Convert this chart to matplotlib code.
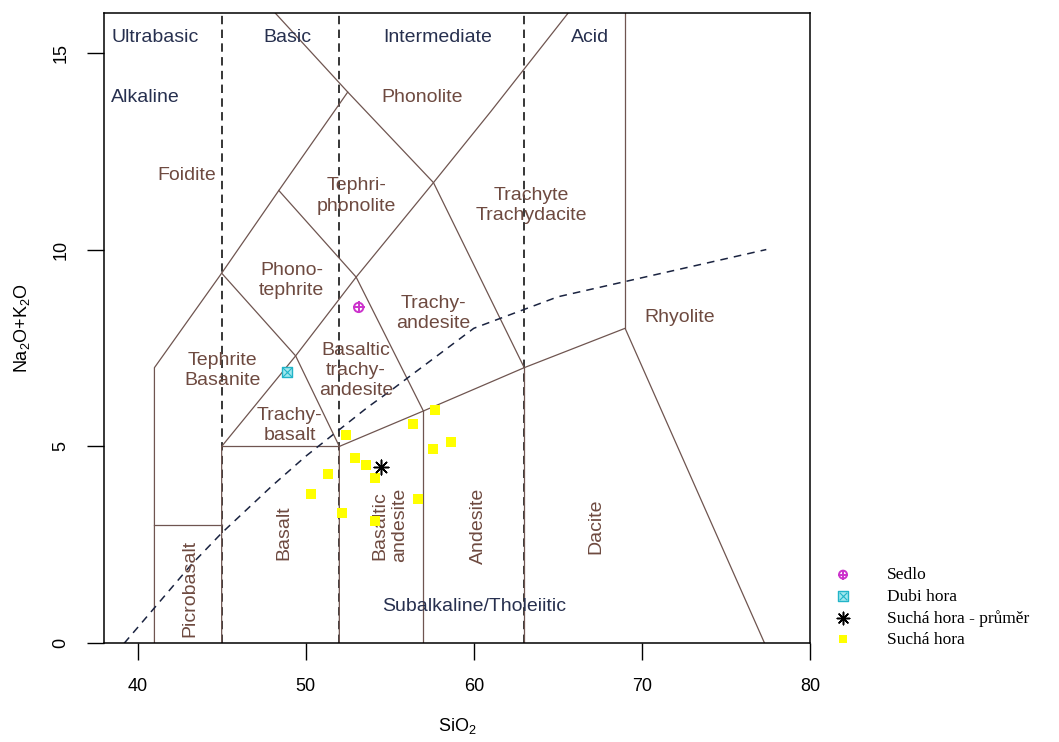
import numpy as np
import matplotlib
matplotlib.use("Agg")
import matplotlib.pyplot as plt
from matplotlib.legend_handler import HandlerTuple

plt.rcParams['font.family'] = ['Liberation Sans', 'DejaVu Sans']
plt.rcParams['mathtext.fontset'] = 'custom'
plt.rcParams['mathtext.rm'] = 'Liberation Sans'
plt.rcParams['mathtext.default'] = 'regular'

# TAS field boundaries (Le Bas et al. 1986), SiO2 vs Na2O+K2O
tas_lines = [
    [(41, 0), (41, 7), (45, 9.4), (48.4, 11.5), (52.5, 14), (48.2, 16)],
    [(45, 0), (45, 5), (49.4, 7.3), (53, 9.3), (57.6, 11.7), (61, 13.5), (65.6, 16)],
    [(52, 0), (52, 5), (57, 5.9), (63, 7), (69, 8), (77.3, 0)],
    [(57, 0), (57, 5.9)],
    [(63, 0), (63, 7)],
    [(69, 8), (69, 16)],
    [(41, 3), (45, 3)],
    [(45, 5), (52, 5)],
    [(45, 9.4), (49.4, 7.3), (52, 5)],
    [(48.4, 11.5), (53, 9.3), (57, 5.9)],
    [(52.5, 14), (57.6, 11.7), (63, 7)],
]

# silica class divisions
class_div = [45, 52, 63]

# alkaline / subalkaline divide (Irvine & Baragar 1971)
ib_x = [39.2, 40, 43.2, 45, 48, 50, 53.7, 55, 60, 65, 77.4]
ib_y = [0, 0.4, 2, 2.8, 4, 4.75, 6, 6.4, 8, 8.8, 10]

# samples
sedlo_x, sedlo_y = [53.15], [8.53]
dubi_x, dubi_y = [48.88], [6.90]
prumer_x, prumer_y = [54.5], [4.48]
sucha_x = [52.41, 52.96, 53.60, 54.15, 51.32, 50.33, 52.17, 54.15, 56.67,
           56.38, 57.67, 57.57, 58.66]
sucha_y = [5.28, 4.71, 4.54, 4.21, 4.29, 3.80, 3.31, 3.11, 3.66,
           5.58, 5.93, 4.94, 5.11]

field_labels = [
    ('Foidite', 42.9, 11.89, 0),
    ('Phonolite', 56.95, 13.87, 0),
    ('Tephri-\nphonolite', 53.0, 11.36, 0),
    ('Phono-\ntephrite', 49.15, 9.21, 0),
    ('Trachy-\nandesite', 57.6, 8.38, 0),
    ('Trachyte\nTrachydacite', 63.4, 11.11, 0),
    ('Rhyolite', 72.25, 8.28, 0),
    ('Tephrite\nBasanite', 45.05, 6.93, 0),
    ('Basaltic\ntrachy-\nandesite', 53.0, 6.93, 0),
    ('Trachy-\nbasalt', 49.05, 5.54, 0),
    ('Picrobasalt', 43.12, 1.39, 90),
    ('Basalt', 48.68, 2.81, 90),
    ('Basaltic\nandesite', 55.0, 3.0, 90),
    ('Andesite', 60.25, 2.98, 90),
    ('Dacite', 67.29, 2.98, 90),
]

class_labels = [
    ('Ultrabasic', 38.42, 15.39, 'left'),
    ('Alkaline', 38.42, 13.87, 'left'),
    ('Basic', 48.9, 15.39, 'center'),
    ('Intermediate', 57.85, 15.39, 'center'),
    ('Acid', 66.93, 15.39, 'center'),
    ('Subalkaline/Tholeiitic', 60.0, 0.945, 'center'),
]

W, H = 1059, 742
fig = plt.figure(figsize=(W / 100, H / 100), dpi=100)
ax = fig.add_axes([104 / W, (H - 643.3) / H, (810 - 104) / W, (643.3 - 13.3) / H])
ax.set_xlim(38, 80)
ax.set_ylim(0, 16)

line_col = '#6f5550'
field_col = '#6e4a40'
class_col = '#27304f'

for xv in class_div:
    ax.plot([xv, xv], [0, 16], color='black', lw=1.1, dashes=(5.5, 3.5), zorder=1)

for seg in tas_lines:
    seg = np.array(seg)
    ax.plot(seg[:, 0], seg[:, 1], color=line_col, lw=0.9, zorder=2)

ax.plot(ib_x, ib_y, color='#1a2340', lw=1.1, dashes=(5, 4), zorder=2)

for txt, x, y, rot in field_labels:
    ax.text(x, y, txt, color=field_col, fontsize=14, ha='center', va='center',
            rotation=rot, linespacing=1.25, zorder=3)
for txt, x, y, ha in class_labels:
    ax.text(x, y, txt, color=class_col, fontsize=14, ha=ha, va='center', zorder=3)

h_sucha = ax.scatter(sucha_x, sucha_y, marker='s', s=55, color='#ffff00',
                     linewidths=0, zorder=4)
# circle with a cross for Sedlo, square with an x for Dubi hora
h_sedlo1 = ax.scatter(sedlo_x, sedlo_y, marker='o', s=45, facecolor='none',
                      edgecolor='#cc33cc', linewidths=1.4, zorder=5)
h_sedlo2 = ax.scatter(sedlo_x, sedlo_y, marker='+', s=70, color='#cc33cc',
                      linewidths=1.4, zorder=5)
h_dubi1 = ax.scatter(dubi_x, dubi_y, marker='s', s=60, facecolor='#9fe8ee',
                     edgecolor='#22b4c8', linewidths=1.0, zorder=5)
h_dubi2 = ax.scatter(dubi_x, dubi_y, marker='x', s=40, color='#22b4c8',
                     linewidths=0.8, zorder=6)
h_prumer = ax.scatter(prumer_x, prumer_y, marker=(8, 2, 0), s=110, color='black',
                      linewidths=1.1, zorder=6)

ax.set_xticks([40, 50, 60, 70, 80])
ax.set_yticks([0, 5, 10, 15])
ax.tick_params(direction='out', length=12, width=1, labelsize=13, pad=13)
for lab in ax.get_yticklabels():
    lab.set_rotation(90)
    lab.set_va('center')
for sp in ax.spines.values():
    sp.set_linewidth(1.1)

fig.text(457 / W, 1 - 726 / H, 'SiO$_2$', fontsize=13, ha='center', va='center')
fig.text(22 / W, 1 - 328 / H, 'Na$_2$O+K$_2$O', fontsize=13, ha='center',
         va='center', rotation=90)

fig.legend([(h_sedlo1, h_sedlo2), (h_dubi1, h_dubi2), h_prumer, h_sucha],
           ['Sedlo', 'Dubi hora', 'Suchá hora - průměr', 'Suchá hora'],
           handler_map={tuple: HandlerTuple(ndivide=1, pad=0)},
           loc='upper left', bbox_to_anchor=(830 / W, 1 - 567 / H),
           frameon=False, borderpad=0, borderaxespad=0, handlelength=1.5,
           handletextpad=1.8, labelspacing=0.3, markerscale=0.85,
           prop={'family': 'Liberation Serif', 'size': 12.5})

fig.savefig('out.png', dpi=100, facecolor='white')
